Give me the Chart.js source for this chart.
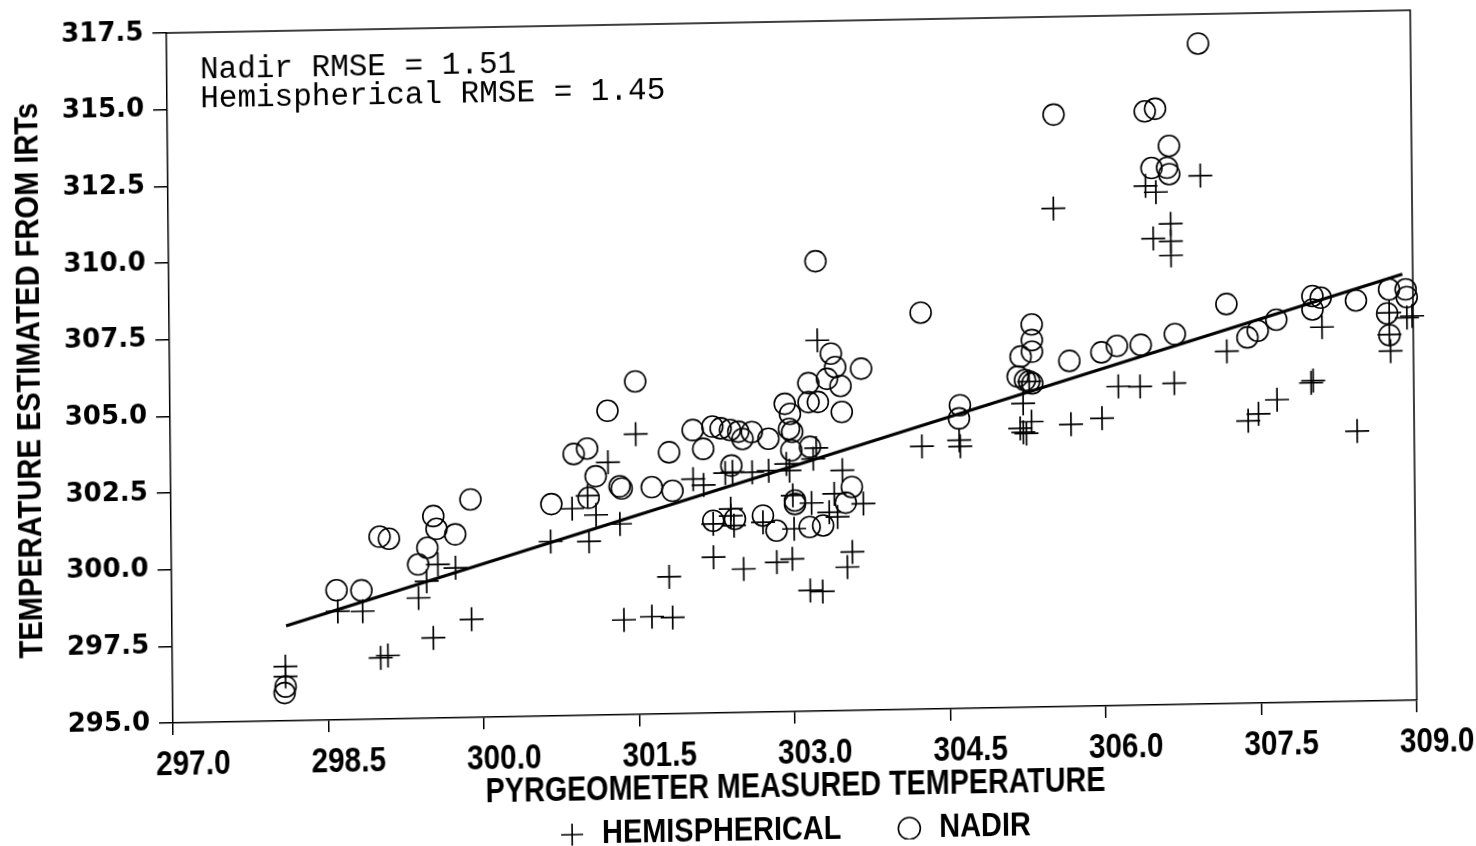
<!DOCTYPE html>
<html>
<head>
<meta charset="utf-8">
<script src="https://cdn.jsdelivr.net/npm/chart.js@4.4.1/dist/chart.umd.min.js"></script>
<style>
  html, body { margin: 0; padding: 0; background: #fff; overflow: hidden; }
  #wrap { width: 1476px; height: 846px; }
  /* the printed figure sits slightly skewed on the page */
  #myChart { transform-origin: 0 0; transform: matrix(1, -0.0183, 0.0095, 1, -3.8, 10.1); }
</style>
</head>
<body>
<div id="wrap"><canvas id="myChart" width="1476" height="846"></canvas></div>
<script>
// pyrgeometer temperature (x) vs temperature estimated from IRTs (y)
var hemiX = [298.09, 298.09, 298.60, 298.84, 299.01, 299.08, 299.38, 299.46, 299.57, 299.74,
             299.52, 299.89, 300.66, 300.87, 301.02, 301.10, 301.03, 301.22, 301.33, 301.49,
             301.36, 302.04, 302.14, 302.35, 302.61, 302.77, 302.94, 302.97, 303.23, 303.20,
             303.48, 303.40, 303.68, 303.00, 303.18, 303.35, 303.43, 302.23, 302.40, 302.43,
             302.71, 303.01, 302.23, 302.52, 302.84, 302.99, 303.57, 303.52, 303.16, 303.28,
             301.80, 301.63, 301.83, 303.25, 302.42, 302.40, 304.25, 304.61, 304.62, 305.23,
             305.20, 305.31, 305.26, 305.29, 305.69, 305.99, 306.15, 306.36, 306.69, 307.20,
             307.40, 305.23, 306.96, 306.43, 306.53, 305.54, 306.67, 306.50, 306.67, 306.67,
             308.12, 308.03, 307.68, 307.50, 308.45, 308.77, 308.77, 308.78, 308.94, 308.99,
             308.01];
var hemiY = [296.77, 296.45, 298.54, 298.53, 297.00, 297.07, 298.93, 299.47, 300.01, 299.89,
             297.62, 298.20, 300.69, 301.75, 302.16, 301.53, 300.67, 303.24, 301.22, 304.14,
             298.09, 302.64, 302.44, 302.82, 302.83, 302.87, 303.08, 302.86, 303.58, 303.23,
             302.84, 302.08, 301.74, 302.05, 301.79, 301.48, 301.32, 301.17, 301.65, 301.10,
             301.19, 300.96, 300.08, 299.68, 299.88, 299.98, 300.17, 299.68, 298.94, 298.90,
             299.47, 298.18, 298.14, 307.09, 302.85, 301.42, 303.57, 303.75, 303.55, 304.91,
             304.10, 304.31, 303.93, 305.62, 304.20, 304.38, 305.41, 305.39, 305.48, 306.49,
             304.21, 303.97, 312.23, 311.93, 311.72, 311.25, 310.68, 310.21, 310.11, 309.65,
             307.22, 305.48, 304.88, 304.43, 303.81, 307.65, 306.94, 306.40, 307.48, 307.53,
             305.41];

var nadirX = [298.09, 298.08, 298.59, 298.83, 299.01, 299.10, 299.53, 299.56, 299.74, 299.47,
              299.38, 299.89, 300.67, 300.89, 301.02, 301.10, 301.03, 301.22, 301.33, 301.35,
              301.64, 301.49, 301.84, 301.81, 302.04, 302.23, 302.31, 302.40, 302.48, 302.61,
              302.52, 302.14, 302.77, 302.93, 303.16, 303.34, 303.42, 303.38, 303.67, 303.47,
              303.16, 303.25, 303.48, 302.97, 303.00, 302.99, 303.17, 303.02, 303.02, 303.57,
              303.51, 302.41, 302.23, 302.44, 302.71, 302.84, 303.16, 303.29, 302.98, 304.25,
              304.62, 304.61, 305.32, 305.32, 305.32, 305.21, 305.18, 305.25, 305.29, 305.32,
              305.68, 305.99, 306.14, 306.37, 306.70, 307.20, 306.95, 305.55, 306.43, 306.53,
              306.66, 306.49, 306.66, 306.64, 303.24, 307.40, 307.50, 307.68, 308.03, 308.11,
              308.03, 308.45, 308.77, 308.93, 308.94, 308.75, 308.77];
var nadirY = [296.12, 295.91, 299.23, 299.21, 300.95, 300.88, 301.59, 301.17, 300.98, 300.56,
              300.02, 302.11, 301.91, 303.53, 303.70, 302.79, 302.09, 304.92, 302.45, 302.38,
              302.40, 305.86, 302.27, 303.53, 304.24, 304.34, 304.28, 304.22, 304.16, 304.14,
              303.92, 303.62, 303.91, 305.04, 305.70, 305.83, 306.21, 306.65, 306.14, 305.59,
              305.08, 305.08, 304.74, 304.22, 304.12, 303.52, 303.62, 301.88, 301.77, 302.29,
              301.78, 303.06, 301.27, 301.32, 301.41, 300.91, 301.01, 301.05, 304.71, 307.93,
              304.89, 304.46, 307.48, 306.97, 306.59, 306.44, 305.79, 305.67, 305.62, 305.56,
              306.27, 306.53, 306.73, 306.75, 307.08, 308.03, 316.54, 314.31, 314.36, 314.44,
              313.22, 312.51, 312.30, 312.51, 309.67, 306.93, 307.14, 307.49, 308.24, 308.18,
              307.80, 308.07, 308.41, 308.40, 308.15, 307.63, 306.92];

// one-to-one reference line
var fitX = [298.1, 308.9];

var xTicks = [297.0, 298.5, 300.0, 301.5, 303.0, 304.5, 306.0, 307.5, 309.0];
var yTicks = [295.0, 297.5, 300.0, 302.5, 305.0, 307.5, 310.0, 312.5, 315.0, 317.5];

var notes = ['Nadir RMSE = 1.51', 'Hemispherical RMSE = 1.45'];
var notePos = [297.32, 316.28];

var sans = '"Liberation Sans", Arial, sans-serif';
// horizontal squeeze of [tick labels, title] per axis, to get the condensed lettering
var squeezeBy = { x: [0.85, 0.82], y: [1, 0.855] };
var legendSqueeze = 0.85;

function pts(xs, ys) {
  return xs.map(function(x, i) { return {x: x, y: ys[i]}; });
}

function squeezed(c, k, draw) {
  if (k === 1) { draw(); return; }
  c.fillText = function(t, x, y) {
    c.save();
    c.scale(k, 1);
    CanvasRenderingContext2D.prototype.fillText.call(c, t, x / k, y);
    c.restore();
  };
  draw();
  delete c.fillText;
}

// linear axis that draws its labels and title condensed
class SqueezedLinear extends Chart.LinearScale {
  drawLabels(area) {
    squeezed(this.ctx, squeezeBy[this.id][0], () => super.drawLabels(area));
  }
  drawTitle() {
    squeezed(this.ctx, squeezeBy[this.id][1], () => super.drawTitle());
  }
}
SqueezedLinear.id = 'squeezedLinear';
SqueezedLinear.defaults = Chart.LinearScale.defaults;
Chart.register(SqueezedLinear);

// box round the plot: top and right edges
var framePlugin = {
  id: 'frame',
  afterDraw: function(chart) {
    var a = chart.chartArea, c = chart.ctx;
    c.save();
    c.strokeStyle = '#000';
    c.lineWidth = 1.5;
    c.beginPath();
    c.moveTo(a.left, a.top);
    c.lineTo(a.right, a.top);
    c.lineTo(a.right, a.bottom);
    c.stroke();
    c.restore();
  }
};

// RMSE text in the upper left
var notePlugin = {
  id: 'notes',
  afterDraw: function(chart) {
    var c = chart.ctx;
    var x0 = chart.scales.x.getPixelForValue(notePos[0]);
    var y0 = chart.scales.y.getPixelForValue(notePos[1]);
    c.save();
    c.fillStyle = '#000';
    c.font = '31px "Courier New", "Liberation Mono", monospace';
    c.textBaseline = 'middle';
    c.textAlign = 'left';
    notes.forEach(function(t, i) { c.fillText(t, x0, y0 + i * 29); });
    c.restore();
  }
};

// legend row under the axis title
var legendPlugin = {
  id: 'legendRow',
  afterDraw: function(chart) {
    var c = chart.ctx, a = chart.chartArea;
    var items = chart.data.datasets.filter(function(d) { return d.label; });
    var r = 11, gapText = 19, gapItem = 57, y = 835;
    c.save();
    c.font = 'bold 34px ' + sans;
    var widths = items.map(function(d) {
      return 2 * r + gapText + c.measureText(d.label).width * legendSqueeze;
    });
    var total = widths.reduce(function(s, w) { return s + w; }, 0) + gapItem * (items.length - 1);
    var x = (a.left + a.right) / 2 - total / 2;
    items.forEach(function(d, i) {
      c.fillStyle = 'rgba(0,0,0,0)';
      c.strokeStyle = '#000';
      c.lineWidth = 1.6;
      Chart.helpers.drawPoint(c, {pointStyle: d.pointStyle, radius: r, borderWidth: 1.6, rotation: 0},
                              x + r, y);
      c.fillStyle = '#000';
      c.textBaseline = 'middle';
      c.textAlign = 'left';
      c.save();
      c.scale(legendSqueeze, 1);
      c.fillText(d.label, (x + 2 * r + gapText) / legendSqueeze, y);
      c.restore();
      x += widths[i] + gapItem;
    });
    c.restore();
  }
};

var ctx = document.getElementById('myChart').getContext('2d');

var myChart = new Chart(ctx, {
  type: 'scatter',
  data: {
    datasets: [{
      label: 'HEMISPHERICAL',
      data: pts(hemiX, hemiY),
      pointStyle: 'cross',
      pointRadius: 12,
      borderColor: '#000',
      backgroundColor: 'rgba(0,0,0,0)',
      pointBorderWidth: 1.7,
      clip: false
    }, {
      label: 'NADIR',
      data: pts(nadirX, nadirY),
      pointStyle: 'circle',
      pointRadius: 10.5,
      borderColor: '#000',
      backgroundColor: 'rgba(0,0,0,0)',
      pointBorderWidth: 1.6,
      clip: false
    }, {
      label: '',
      type: 'line',
      data: pts(fitX, fitX),
      borderColor: '#000',
      borderWidth: 3.2,
      pointRadius: 0,
      fill: false
    }]
  },
  options: {
    responsive: false,
    animation: false,
    layout: { padding: { top: 26, right: 62, left: 0, bottom: 0 } },
    plugins: { legend: { display: false }, tooltip: { enabled: false } },
    scales: {
      x: {
        type: 'squeezedLinear',
        position: 'bottom',
        min: 297, max: 309,
        afterBuildTicks: function(s) { s.ticks = xTicks.map(function(v) { return {value: v}; }); },
        afterFit: function(s) { s.height = 130; },
        grid: { drawOnChartArea: false, tickLength: 12, color: '#000', lineWidth: 1.5 },
        border: { display: true, color: '#000', width: 1.5 },
        ticks: {
          color: '#000', padding: 9, maxRotation: 0, labelOffset: 20,
          font: { family: sans, weight: 'bold', size: 35 },
          callback: function(v) { return v.toFixed(1); }
        },
        title: {
          display: true, text: 'PYRGEOMETER MEASURED TEMPERATURE', color: '#000',
          font: { family: sans, weight: 'bold', size: 35 },
          padding: { top: 0, bottom: 34 }
        }
      },
      y: {
        type: 'squeezedLinear',
        position: 'left',
        min: 295, max: 317.5,
        afterBuildTicks: function(s) { s.ticks = yTicks.map(function(v) { return {value: v}; }); },
        afterFit: function(s) { s.width = 170; },
        grid: { drawOnChartArea: false, tickLength: 14, color: '#000', lineWidth: 1.5 },
        border: { display: true, color: '#000', width: 1.5 },
        ticks: {
          color: '#000', padding: 9,
          font: { family: '"DejaVu Sans", sans-serif', weight: 'bold', size: 26 },
          callback: function(v) { return v.toFixed(1); }
        },
        title: {
          display: true, text: 'TEMPERATURE ESTIMATED FROM IRTs', color: '#000',
          font: { family: sans, weight: 'bold', size: 34 },
          padding: { top: 10, bottom: 0 }
        }
      }
    }
  },
  plugins: [framePlugin, notePlugin, legendPlugin]
});
</script>
</body>
</html>
